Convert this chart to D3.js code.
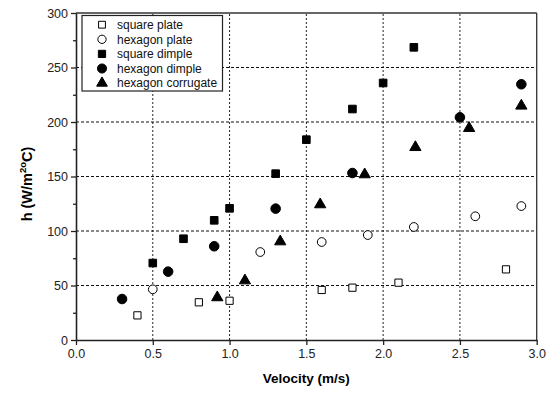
<!DOCTYPE html>
<html>
<head>
<meta charset="utf-8">
<script src="https://cdn.jsdelivr.net/npm/d3@7"></script>
<style>
  body { margin: 0; background: #fff; }
  text { font-family: Arial, "Liberation Sans", sans-serif; }
</style>
</head>
<body>
<div id="chart"></div>
<script>
let width = 553;
let height = 394;

// data
let seriesNames = ["square plate", "hexagon plate", "square dimple", "hexagon dimple", "hexagon corrugate"];
let squarePlate = [[0.4, 22.6], [0.8, 34.6], [1.0, 36], [1.6, 45.9], [1.8, 48], [2.1, 52.6], [2.8, 64.8]];
let hexagonPlate = [[0.5, 46.5], [1.2, 80.7], [1.6, 89.9], [1.9, 96.3], [2.2, 103.7], [2.6, 113.5], [2.9, 122.9]];
let squareDimple = [[0.5, 70.6], [0.7, 92.9], [0.9, 109.8], [1.0, 120.8], [1.3, 152.6], [1.5, 183.8], [1.8, 211.9], [2.0, 235.8], [2.2, 268.5]];
let hexagonDimple = [[0.3, 37.6], [0.6, 62.7], [0.9, 86], [1.3, 120.5], [1.8, 153.2], [2.5, 204.3], [2.9, 234.6]];
let hexagonCorrugate = [[0.92, 39], [1.1, 54.5], [1.33, 90.3], [1.59, 124.3], [1.88, 151.8], [2.21, 176.8], [2.56, 194.3], [2.9, 214.8]];
let xTicks = [0.0, 0.5, 1.0, 1.5, 2.0, 2.5, 3.0];
let yTicks = [0, 50, 100, 150, 200, 250, 300];
let yMinorTicks = [25, 75, 125, 175, 225, 275];

let margin = {left: 76, right: 16, top: 13, bottom: 54};

let svg = d3.select("div#chart").append("svg")
    .attr("width", width)
    .attr("height", height);

let x = d3.scaleLinear().domain([0, 3]).range([margin.left, width - margin.right - 0.3]);
let y = d3.scaleLinear().domain([0, 300]).range([height - margin.bottom, margin.top]);

// grid lines
xTicks.slice(1, -1).forEach(t =>
    svg.append("line")
        .attr("x1", x(t)).attr("x2", x(t))
        .attr("y1", y(0)).attr("y2", y(300))
        .attr("stroke", "#222")
        .attr("stroke-width", 1)
        .attr("stroke-dasharray", "2,2")
);
yTicks.slice(1, -1).forEach(t =>
    svg.append("line")
        .attr("x1", x(0)).attr("x2", x(3))
        .attr("y1", y(t)).attr("y2", y(t))
        .attr("stroke", "#111")
        .attr("stroke-width", 1)
        .attr("stroke-dasharray", "3,2")
);

// frame top and right
svg.append("line")
    .attr("x1", x(0)).attr("x2", x(3))
    .attr("y1", y(300)).attr("y2", y(300))
    .attr("stroke", "#333").attr("stroke-width", 1.3);
svg.append("line")
    .attr("x1", x(3)).attr("x2", x(3))
    .attr("y1", y(0)).attr("y2", y(300))
    .attr("stroke", "#333").attr("stroke-width", 1.3);

// axes
let xAxis = svg.append("g")
    .attr("transform", "translate(0," + y(0) + ")")
    .call(d3.axisBottom(x).tickValues(xTicks).tickFormat(d3.format(".1f")).tickSize(5).tickSizeOuter(0).tickPadding(4));
let yAxis = svg.append("g")
    .attr("transform", "translate(" + x(0) + ",0)")
    .call(d3.axisLeft(y).tickValues(yTicks).tickSize(5).tickSizeOuter(0).tickPadding(3));
svg.append("g")
    .attr("transform", "translate(" + x(0) + ",0)")
    .call(d3.axisLeft(y).tickValues(yMinorTicks).tickSize(3).tickFormat(""))
    .select(".domain").remove();

svg.selectAll(".domain").attr("stroke", "#222").attr("stroke-width", 1.6);
svg.selectAll(".tick line").attr("stroke", "#222").attr("stroke-width", 1.3);
svg.selectAll(".tick text")
    .attr("font-size", 12.5)
    .attr("fill", "#222")
    .attr("font-family", "Arial, 'Liberation Sans', sans-serif");

// axis titles
svg.append("text")
    .attr("x", (x(0) + x(3)) / 2)
    .attr("y", 383)
    .attr("text-anchor", "middle")
    .attr("font-size", 13.5)
    .attr("font-weight", "bold")
    .text("Velocity (m/s)");

let yTitle = svg.append("text")
    .attr("transform", "translate(32," + 184 + ") rotate(-90)")
    .attr("text-anchor", "middle")
    .attr("font-size", 14.5)
    .attr("font-weight", "bold");
yTitle.append("tspan").text("h (W/m");
yTitle.append("tspan").attr("font-size", 9.5).attr("dy", -6).text("2o");
yTitle.append("tspan").attr("dy", 6).text("C)");

// markers
let symbols = [
    {type: d3.symbolSquare, size: 52, fill: "#fff"},
    {type: d3.symbolCircle, size: 60, fill: "#fff"},
    {type: d3.symbolSquare, size: 58, fill: "#000"},
    {type: d3.symbolCircle, size: 72, fill: "#000"},
    {type: d3.symbolTriangle, size: 55, fill: "#000"}
];
let allSeries = [squarePlate, hexagonPlate, squareDimple, hexagonDimple, hexagonCorrugate];

allSeries.forEach((s, i) => {
    let sym = d3.symbol().type(symbols[i].type).size(symbols[i].size);
    svg.append("g").selectAll("path")
        .data(s)
        .join("path")
        .attr("transform", d => "translate(" + x(d[0]) + "," + y(d[1]) + ")")
        .attr("d", sym)
        .attr("fill", symbols[i].fill)
        .attr("stroke", "#000")
        .attr("stroke-width", 1);
});

// legend
let legend = svg.append("g");
legend.append("rect")
    .attr("x", 82).attr("y", 15.5)
    .attr("width", 140.5).attr("height", 75.5)
    .attr("fill", "#fff")
    .attr("stroke", "#222")
    .attr("stroke-width", 1.2);

seriesNames.forEach((name, i) => {
    let cy = 24.7 + i * 14.6;
    let sym = d3.symbol().type(symbols[i].type).size(symbols[i].size * 0.9);
    legend.append("path")
        .attr("transform", "translate(102," + cy + ")")
        .attr("d", sym)
        .attr("fill", symbols[i].fill)
        .attr("stroke", "#000")
        .attr("stroke-width", 1);
    legend.append("text")
        .attr("x", 117)
        .attr("y", cy + 4.3)
        .attr("font-size", 12)
        .attr("fill", "#111")
        .text(name);
});
</script>
</body>
</html>
